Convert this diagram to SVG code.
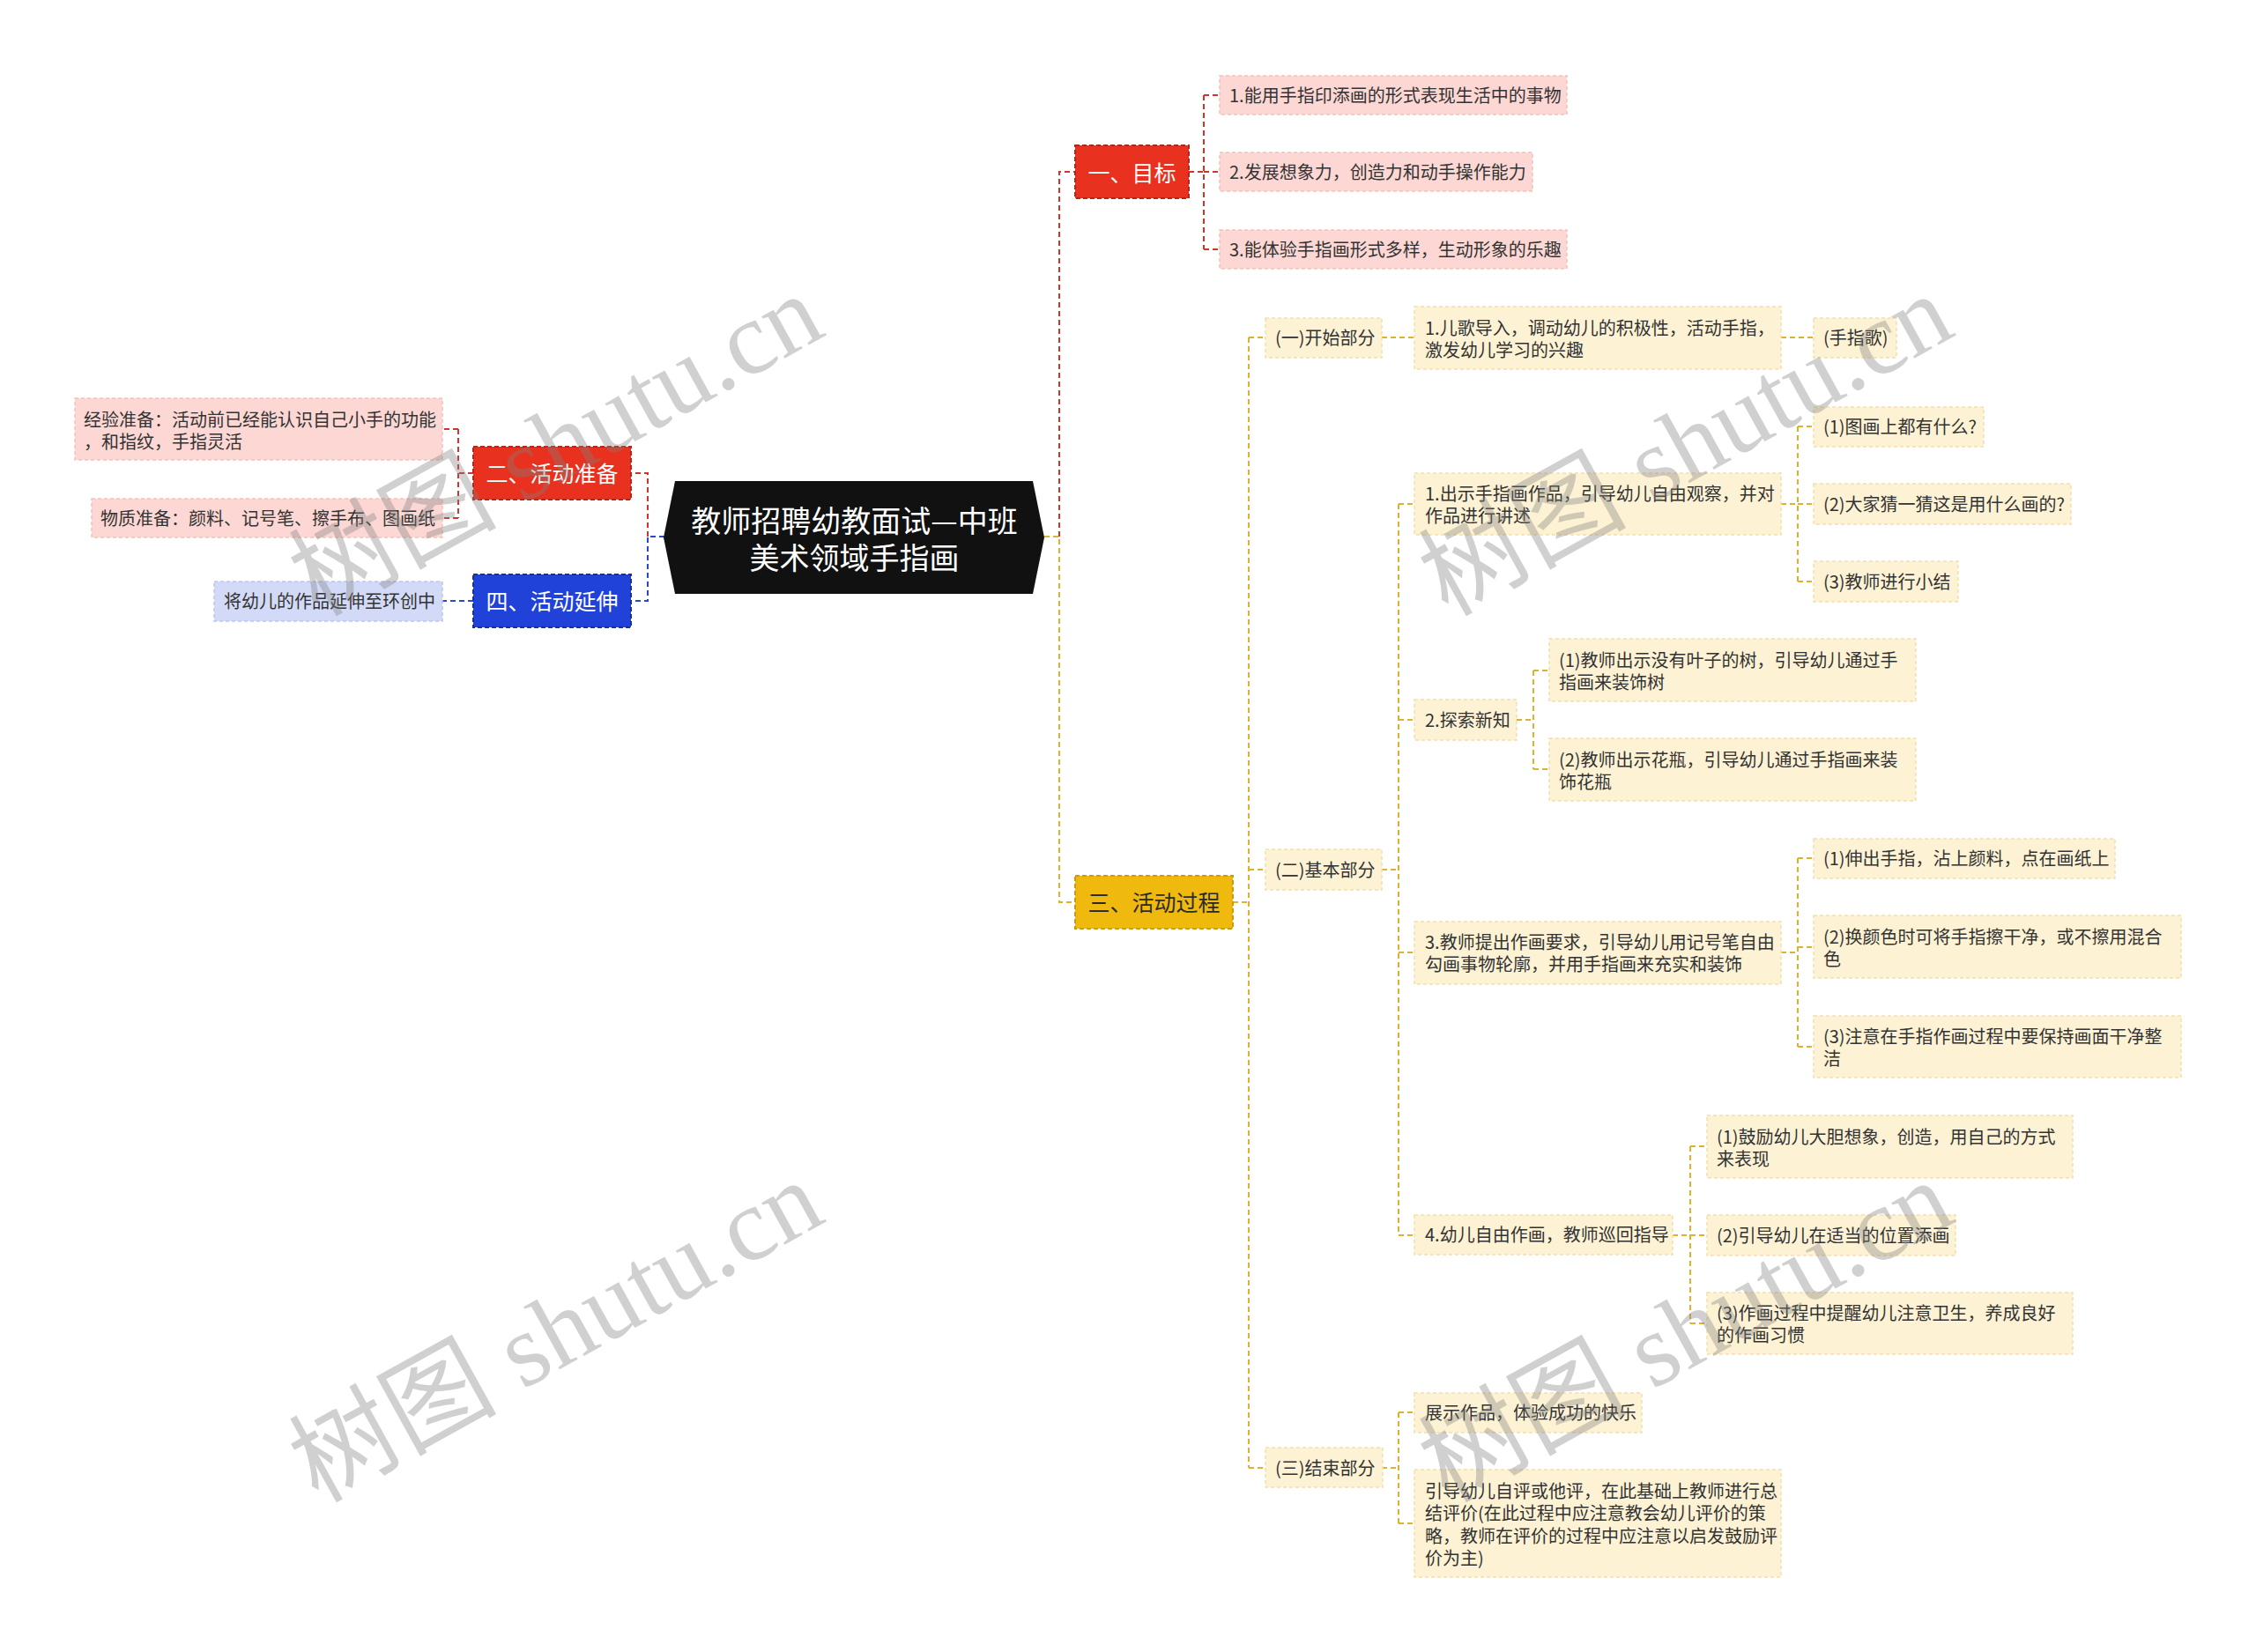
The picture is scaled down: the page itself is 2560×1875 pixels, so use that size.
<svg xmlns="http://www.w3.org/2000/svg" width="2560" height="1875" viewBox="0 0 2560 1875">
<style>
.bg{fill:#ffffff}
.t{font-family:"Noto Sans CJK SC","Liberation Sans",sans-serif;font-size:20px;fill:#333333;dominant-baseline:central}
.t1{font-family:"Noto Sans CJK SC","Liberation Sans",sans-serif;font-size:25px;fill:#ffffff;dominant-baseline:central;text-anchor:middle}
.t1y{fill:#2b2b2b}
.tr{font-family:"Noto Sans CJK SC","Liberation Sans",sans-serif;font-size:34px;fill:#ffffff;dominant-baseline:central;text-anchor:middle}
.nr{fill:#e8321f;stroke:#b3261a;stroke-width:2;stroke-dasharray:5 3}
.nb{fill:#2142d8;stroke:#162f9c;stroke-width:2;stroke-dasharray:5 3}
.ny{fill:#f0b90e;stroke:#cf9c00;stroke-width:2;stroke-dasharray:5 3}
.lr{fill:#fcd7d3;stroke:#f3c1bb;stroke-width:1.5;stroke-dasharray:4 3}
.lb{fill:#d3daf7;stroke:#bcc6ee;stroke-width:1.5;stroke-dasharray:4 3}
.ly{fill:#fdf2d4;stroke:#f2e0ac;stroke-width:1.5;stroke-dasharray:4 3}
.cr{fill:none;stroke:#d2342a;stroke-width:2;stroke-dasharray:6 4}
.cy{fill:none;stroke:#e0b22c;stroke-width:2;stroke-dasharray:6 4}
.cb{fill:none;stroke:#2a47cf;stroke-width:2;stroke-dasharray:6 4}
.wm{font-family:"Liberation Serif","Noto Sans CJK SC",serif;font-size:118px;fill:#808080;opacity:0.36;text-anchor:middle}
</style>
<rect class="bg" x="0" y="0" width="2560" height="1875"/>

<g id="connectors">
  <path class="cr" d="M1202,609 V195 H1220"/>
  <path class="cr" d="M1349,195 H1366 M1366,108 V283 M1366,108 H1384 M1366,195 H1384 M1366,283 H1384"/>
  <path class="cy" d="M1185,609 H1202 V1024 H1220"/>
  <path class="cy" d="M1399,1024 H1417 M1417,383 V1666 M1417,383 H1436 M1417,987 H1436 M1417,1666 H1436"/>
  <path class="cy" d="M1568,383 H1605 M2021,383 H2058"/>
  <path class="cy" d="M1568,987 H1587 M1587,572 V1402 M1587,572 H1605 M1587,817 H1605 M1587,1081 H1605 M1587,1402 H1605"/>
  <path class="cy" d="M2021,572 H2040 M2040,484 V660 M2040,484 H2058 M2040,572 H2058 M2040,660 H2058"/>
  <path class="cy" d="M1721,817 H1740 M1740,761 V873 M1740,761 H1758 M1740,873 H1758"/>
  <path class="cy" d="M2021,1081 H2040 M2040,974 V1188 M2040,974 H2058 M2040,1075 H2058 M2040,1188 H2058"/>
  <path class="cy" d="M1898,1402 H1918 M1918,1301 V1502 M1918,1301 H1937 M1918,1402 H1937 M1918,1502 H1937"/>
  <path class="cy" d="M1568,1666 H1587 M1587,1603 V1729 M1587,1603 H1605 M1587,1729 H1605"/>
  <path class="cb" d="M754,609 H735 V682 H717"/>
  <path class="cr" d="M735,609 V537 H717"/>
  <path class="cr" d="M537,537 H520 M520,487 V588 M520,487 H502 M520,588 H502"/>
  <path class="cb" d="M537,682 H502"/>
</g>

<g id="root">
  <polygon points="766,546 1172,546 1185,610 1172,674 766,674 753,610" fill="#111111"/>
  <text class="tr"><tspan x="969.5" y="589">教师招聘幼教面试—中班</tspan><tspan x="969.5" y="631">美术领域手指画</tspan></text>
</g>

<g id="n-goal">
  <rect class="nr" x="1220" y="165" width="129" height="60"/>
  <text class="t1" x="1284.5" y="195">一、目标</text>
</g>
<g id="n-goal-1">
  <rect class="lr" x="1384" y="86" width="394" height="44"/>
  <text class="t" x="1395" y="107">1.能用手指印添画的形式表现生活中的事物</text>
</g>
<g id="n-goal-2">
  <rect class="lr" x="1384" y="173" width="355" height="44"/>
  <text class="t" x="1395" y="194">2.发展想象力，创造力和动手操作能力</text>
</g>
<g id="n-goal-3">
  <rect class="lr" x="1384" y="261" width="394" height="44"/>
  <text class="t" x="1395" y="282">3.能体验手指画形式多样，生动形象的乐趣</text>
</g>

<g id="n-prep">
  <rect class="nr" x="537" y="507" width="179" height="60"/>
  <text class="t1" x="626.5" y="536">二、活动准备</text>
</g>
<g id="n-prep-1">
  <rect class="lr" x="85" y="452" width="417" height="70"/>
  <text class="t" x="95" y="475">经验准备：活动前已经能认识自己小手的功能</text>
  <text class="t" x="95" y="500">，和指纹，手指灵活</text>
</g>
<g id="n-prep-2">
  <rect class="lr" x="104" y="566" width="398" height="44"/>
  <text class="t" x="114" y="587">物质准备：颜料、记号笔、擦手布、图画纸</text>
</g>

<g id="n-ext">
  <rect class="nb" x="537" y="652" width="179" height="60"/>
  <text class="t1" x="626.5" y="681">四、活动延伸</text>
</g>
<g id="n-ext-1">
  <rect class="lb" x="243" y="660" width="259" height="45"/>
  <text class="t" x="254" y="681">将幼儿的作品延伸至环创中</text>
</g>

<g id="n-proc">
  <rect class="ny" x="1220" y="994" width="179" height="60"/>
  <text class="t1 t1y" x="1309.5" y="1023">三、活动过程</text>
</g>

<g id="n-start">
  <rect class="ly" x="1436" y="361" width="132" height="45"/>
  <text class="t" x="1447" y="382">(一)开始部分</text>
</g>
<g id="n-start-1">
  <rect class="ly" x="1605" y="348" width="416" height="71"/>
  <text class="t" x="1617" y="371">1.儿歌导入，调动幼儿的积极性，活动手指，</text>
  <text class="t" x="1617" y="396">激发幼儿学习的兴趣</text>
</g>
<g id="n-start-1-1">
  <rect class="ly" x="2058" y="361" width="94" height="45"/>
  <text class="t" x="2069" y="382">(手指歌)</text>
</g>

<g id="n-basic">
  <rect class="ly" x="1436" y="964" width="132" height="46"/>
  <text class="t" x="1447" y="986">(二)基本部分</text>
</g>
<g id="n-basic-1">
  <rect class="ly" x="1605" y="537" width="416" height="70"/>
  <text class="t" x="1617" y="559">1.出示手指画作品，引导幼儿自由观察，并对</text>
  <text class="t" x="1617" y="584">作品进行讲述</text>
</g>
<g id="n-basic-1-1">
  <rect class="ly" x="2058" y="462" width="193" height="45"/>
  <text class="t" x="2069" y="483">(1)图画上都有什么?</text>
</g>
<g id="n-basic-1-2">
  <rect class="ly" x="2058" y="549" width="292" height="46"/>
  <text class="t" x="2069" y="571">(2)大家猜一猜这是用什么画的?</text>
</g>
<g id="n-basic-1-3">
  <rect class="ly" x="2058" y="637" width="164" height="46"/>
  <text class="t" x="2069" y="659">(3)教师进行小结</text>
</g>
<g id="n-basic-2">
  <rect class="ly" x="1605" y="794" width="116" height="46"/>
  <text class="t" x="1617" y="816">2.探索新知</text>
</g>
<g id="n-basic-2-1">
  <rect class="ly" x="1758" y="725" width="416" height="71"/>
  <text class="t" x="1769" y="748">(1)教师出示没有叶子的树，引导幼儿通过手</text>
  <text class="t" x="1769" y="773">指画来装饰树</text>
</g>
<g id="n-basic-2-2">
  <rect class="ly" x="1758" y="838" width="416" height="71"/>
  <text class="t" x="1769" y="861">(2)教师出示花瓶，引导幼儿通过手指画来装</text>
  <text class="t" x="1769" y="886">饰花瓶</text>
</g>
<g id="n-basic-3">
  <rect class="ly" x="1605" y="1046" width="416" height="71"/>
  <text class="t" x="1617" y="1068">3.教师提出作画要求，引导幼儿用记号笔自由</text>
  <text class="t" x="1617" y="1093">勾画事物轮廓，并用手指画来充实和装饰</text>
</g>
<g id="n-basic-3-1">
  <rect class="ly" x="2058" y="952" width="342" height="45"/>
  <text class="t" x="2069" y="973">(1)伸出手指，沾上颜料，点在画纸上</text>
</g>
<g id="n-basic-3-2">
  <rect class="ly" x="2058" y="1039" width="417" height="71"/>
  <text class="t" x="2069" y="1062">(2)换颜色时可将手指擦干净，或不擦用混合</text>
  <text class="t" x="2069" y="1087">色</text>
</g>
<g id="n-basic-3-3">
  <rect class="ly" x="2058" y="1153" width="417" height="70"/>
  <text class="t" x="2069" y="1175">(3)注意在手指作画过程中要保持画面干净整</text>
  <text class="t" x="2069" y="1200">洁</text>
</g>
<g id="n-basic-4">
  <rect class="ly" x="1605" y="1379" width="293" height="45"/>
  <text class="t" x="1617" y="1400">4.幼儿自由作画，教师巡回指导</text>
</g>
<g id="n-basic-4-1">
  <rect class="ly" x="1937" y="1266" width="415" height="71"/>
  <text class="t" x="1948" y="1289">(1)鼓励幼儿大胆想象，创造，用自己的方式</text>
  <text class="t" x="1948" y="1314">来表现</text>
</g>
<g id="n-basic-4-2">
  <rect class="ly" x="1937" y="1379" width="282" height="46"/>
  <text class="t" x="1948" y="1401">(2)引导幼儿在适当的位置添画</text>
</g>
<g id="n-basic-4-3">
  <rect class="ly" x="1937" y="1467" width="415" height="70"/>
  <text class="t" x="1948" y="1489">(3)作画过程中提醒幼儿注意卫生，养成良好</text>
  <text class="t" x="1948" y="1514">的作画习惯</text>
</g>

<g id="n-end">
  <rect class="ly" x="1436" y="1643" width="133" height="45"/>
  <text class="t" x="1447" y="1665">(三)结束部分</text>
</g>
<g id="n-end-1">
  <rect class="ly" x="1605" y="1581" width="258" height="45"/>
  <text class="t" x="1617" y="1602">展示作品，体验成功的快乐</text>
</g>
<g id="n-end-2">
  <rect class="ly" x="1605" y="1668" width="416" height="122"/>
  <text class="t" x="1617" y="1691">引导幼儿自评或他评，在此基础上教师进行总</text>
  <text class="t" x="1617" y="1716">结评价(在此过程中应注意教会幼儿评价的策</text>
  <text class="t" x="1617" y="1742">略，教师在评价的过程中应注意以启发鼓励评</text>
  <text class="t" x="1617" y="1767">价为主)</text>
</g>

<g id="watermark">
  <text class="wm" x="650" y="540" transform="rotate(-29 650 540)">树图 shutu.cn</text>
  <text class="wm" x="1932" y="540" transform="rotate(-29 1932 540)">树图 shutu.cn</text>
  <text class="wm" x="650" y="1546" transform="rotate(-29 650 1546)">树图 shutu.cn</text>
  <text class="wm" x="1932" y="1546" transform="rotate(-29 1932 1546)">树图 shutu.cn</text>
</g>
</svg>
